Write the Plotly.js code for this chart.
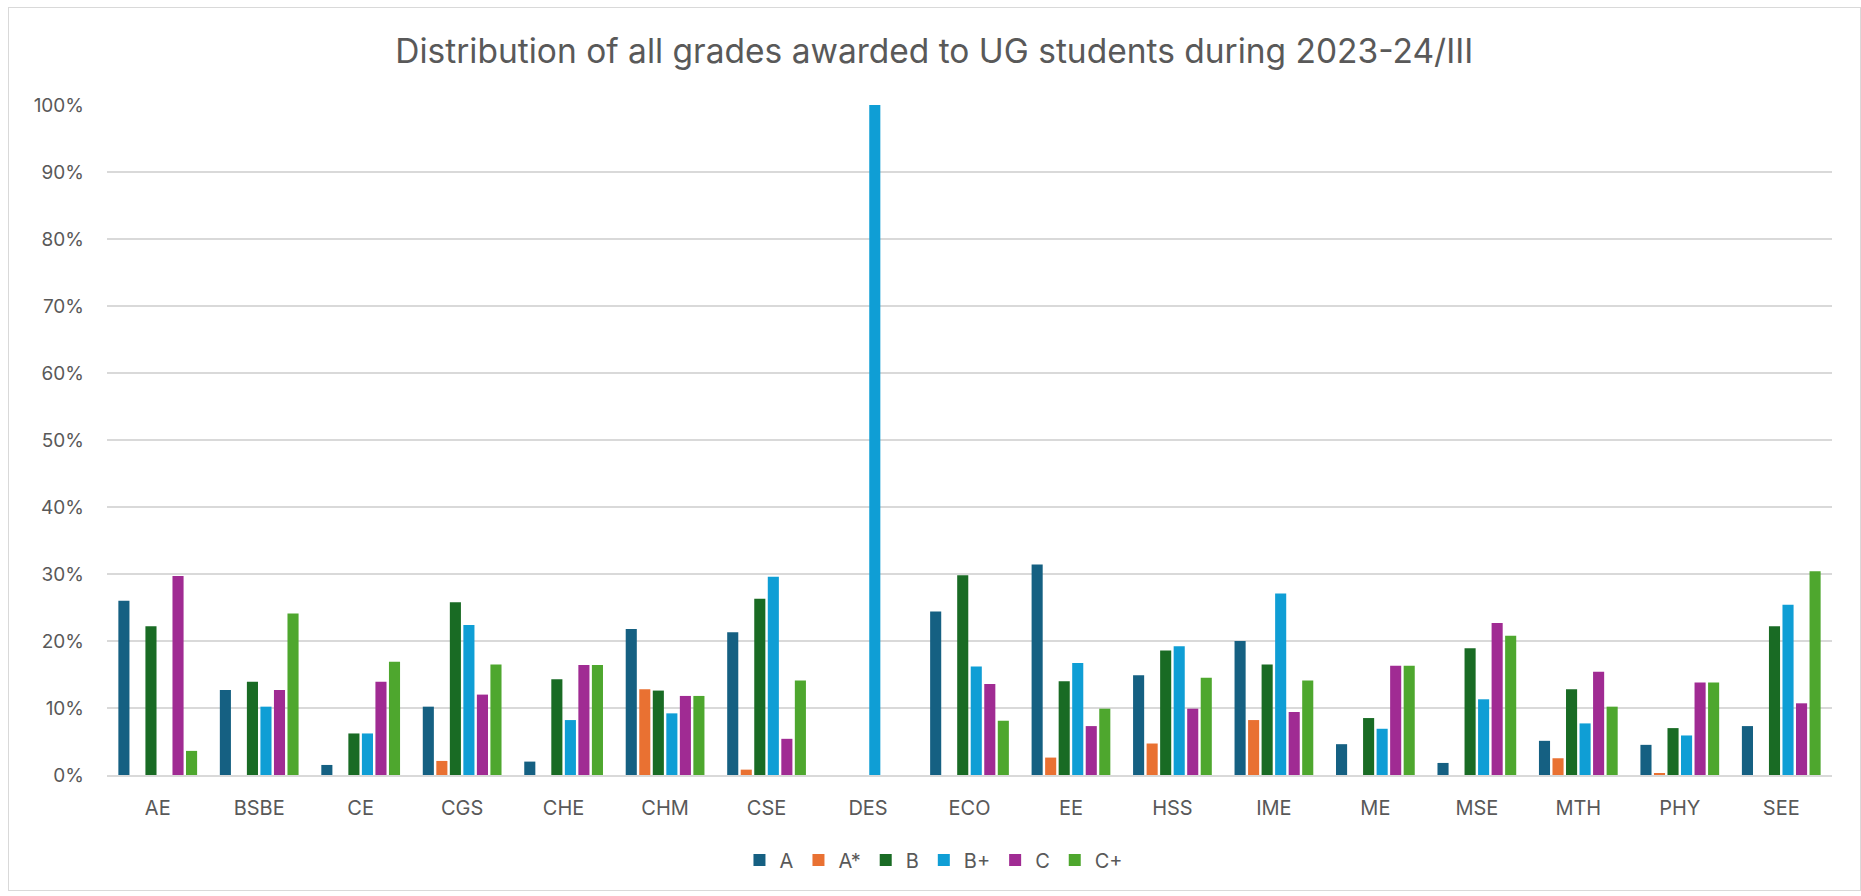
<!DOCTYPE html>
<html>
<head>
<meta charset="utf-8">
<script src="https://cdn.plot.ly/plotly-3.0.1.min.js"></script>
<style>
  html, body { margin: 0; padding: 0; background: #ffffff; }
  #chart { position: absolute; left: 0; top: 0; width: 1861px; height: 896px; }
  #frame { position: absolute; left: 8px; top: 7px; width: 1851px; height: 882px;
           border: 1px solid #d9d9d9; pointer-events: none; }
</style>
</head>
<body>
<div id="chart"></div>
<div id="frame"></div>
<script>
// Departments (x categories)
const departments = ["AE","BSBE","CE","CGS","CHE","CHM","CSE","DES","ECO","EE","HSS","IME","ME","MSE","MTH","PHY","SEE"];

// Grade series, percent of grades awarded
const gradeA      = [26.0, 12.7, 1.5, 10.2, 2.0, 21.8, 21.3, 0, 24.4, 31.4, 14.9, 20.0, 4.6, 1.8, 5.1, 4.5, 7.3];
const gradeAStar  = [0, 0, 0, 2.1, 0, 12.8, 0.8, 0, 0, 2.6, 4.7, 8.2, 0, 0, 2.5, 0.3, 0];
const gradeB      = [22.2, 13.9, 6.2, 25.8, 14.3, 12.6, 26.3, 0, 29.8, 14.0, 18.6, 16.5, 8.5, 18.9, 12.8, 7.0, 22.2];
const gradeBPlus  = [0, 10.2, 6.2, 22.4, 8.2, 9.2, 29.6, 100, 16.2, 16.7, 19.2, 27.1, 6.9, 11.3, 7.7, 5.9, 25.4];
const gradeC      = [29.7, 12.7, 13.9, 12.0, 16.4, 11.8, 5.4, 0, 13.6, 7.3, 9.9, 9.4, 16.3, 22.7, 15.4, 13.8, 10.7];
const gradeCPlus  = [3.6, 24.1, 16.9, 16.5, 16.4, 11.8, 14.1, 0, 8.1, 9.9, 14.5, 14.1, 16.3, 20.8, 10.2, 13.8, 30.4];

const seriesNames  = ["A", "A*", "B", "B+", "C", "C+"];
const seriesValues = [gradeA, gradeAStar, gradeB, gradeBPlus, gradeC, gradeCPlus];
const seriesColors = ["#156082", "#E97132", "#196B24", "#0F9ED5", "#A02B93", "#4EA72E"];

const yTickVals = [0,10,20,30,40,50,60,70,80,90,100];

const traces = seriesNames.map((name, i) => ({
  type: "bar",
  name: name,
  x: departments,
  y: seriesValues[i],
  marker: { color: seriesColors[i], line: { width: 0 } },
  hovertemplate: "%{x}: %{y}%<extra>" + name + "</extra>"
}));

const textColor = "#595959";
const fontFamily = "Inter, 'Liberation Sans', Arial, sans-serif";

const layout = {
  width: 1861,
  height: 896,
  paper_bgcolor: "rgba(0,0,0,0)",
  plot_bgcolor: "#ffffff",
  margin: { l: 107, r: 29, t: 105, b: 121 },
  barmode: "group",
  bargap: 0.2,
  bargroupgap: 0.18,
  font: { family: fontFamily, color: textColor, size: 20 },
  title: {
    text: "Distribution of all grades awarded to UG students during 2023-24/III",
    font: { family: fontFamily, size: 33.5, color: textColor },
    x: 0.502, xref: "container", xanchor: "center",
    y: 0.943, yref: "container", yanchor: "middle"
  },
  xaxis: {
    type: "category",
    showgrid: false,
    showline: true,
    linecolor: "#d9d9d9",
    linewidth: 2,
    ticks: "",
    ticklabelstandoff: 14,
    tickfont: { family: fontFamily, size: 20, color: textColor },
    fixedrange: true
  },
  yaxis: {
    range: [0, 100],
    tickvals: yTickVals,
    ticktext: yTickVals.map(v => v + "%"),
    showgrid: true,
    gridcolor: "#d9d9d9",
    gridwidth: 2,
    zeroline: false,
    showline: false,
    ticks: "",
    ticklabelstandoff: 22,
    tickfont: { family: fontFamily, size: 19, color: textColor },
    fixedrange: true
  },
  showlegend: true,
  legend: {
    orientation: "h",
    x: 0.4794, xanchor: "center",
    y: -0.127, yanchor: "middle",
    font: { family: fontFamily, size: 20, color: textColor },
    itemwidth: 30,
    bgcolor: "rgba(0,0,0,0)"
  }
};

Plotly.newPlot("chart", traces, layout, { displayModeBar: false, staticPlot: true });
</script>
</body>
</html>
